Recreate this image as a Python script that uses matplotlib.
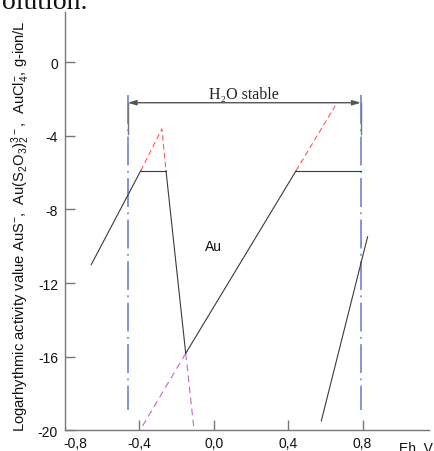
import matplotlib
matplotlib.use("Agg")
import matplotlib.pyplot as plt
from matplotlib.transforms import ScaledTranslation

plt.rcParams['font.family'] = ['Liberation Sans', 'DejaVu Sans']
plt.rcParams['mathtext.default'] = 'regular'

# ---- data (Eh in V, log activity) ----
left_x = [-0.659, -0.393]
left_y = [-11.0, -5.9]
flat1_x = [-0.393, -0.257]
flat1_y = [-5.9, -5.9]
red_peak_x = [-0.393, -0.279, -0.257]
red_peak_y = [-5.9, -3.62, -5.9]
steep_x = [-0.257, -0.151]
steep_y = [-5.9, -15.82]
steep_ext_x = [-0.151, -0.106]
steep_ext_y = [-15.82, -20.0]
rise_x = [-0.151, 0.442]
rise_y = [-15.82, -5.9]
rise_ext_x = [-0.151, -0.397]
rise_ext_y = [-15.82, -20.0]
red_ext_x = [0.442, 0.653]
red_ext_y = [-5.9, -2.36]
flat2_x = [0.442, 0.791]
flat2_y = [-5.9, -5.9]
right_x = [0.578, 0.827]
right_y = [-19.49, -9.48]
water_x = [-0.463, 0.791]
water_y = [-1.8, -18.9]
arrow_y = -2.2
bracket_y = [-2.2, -3.9]

xticks = [-0.8, -0.4, 0.0, 0.4, 0.8]
xticklabels = ['-0,8', '-0,4', '0,0', '0,4', '0,8']
yticks = [0, -4, -8, -12, -16, -20]
yticklabels = ['0', '-4', '-8', '-12', '-16', '-20']

fig = plt.figure(figsize=(4.34, 4.52), dpi=100)
ax = fig.add_axes([65/434, 20.7/452, 364/434, 418.3/452])
ax.set_xlim(-0.8, 1.157)
ax.set_ylim(-20, 2.73)

black = '#3a3a3a'
lw = 0.8
red = '#ff5a5a'
mag = '#c266c8'
blue = '#7b8ed6'

# water stability lines
for wx in water_x:
    ax.plot([wx, wx], water_y, color=blue, lw=1.3, linestyle=(0, (16, 3, 1, 3)))
    ax.plot([wx, wx], bracket_y, color='#777777', lw=1.0)

ax.annotate('', xy=(water_x[0], arrow_y), xytext=(water_x[1], arrow_y),
            arrowprops=dict(arrowstyle='<|-|>,head_length=0.5,head_width=0.15',
                            color='#555555', lw=1.0, shrinkA=0, shrinkB=0))
ax.text(sum(water_x)/2, -1.95, 'H\u2082O stable', ha='center', va='baseline',
        fontsize=11.5, family=['Liberation Serif', 'DejaVu Serif'], color='#222222')

# dashed extensions
ax.plot(red_peak_x, red_peak_y, color=red, lw=lw, linestyle=(0, (5, 3)))
ax.plot(red_ext_x, red_ext_y, color=red, lw=lw, linestyle=(0, (5, 3)))
ax.plot(steep_ext_x, steep_ext_y, color=mag, lw=lw, linestyle=(0, (6, 4)))
ax.plot(rise_ext_x, rise_ext_y, color=mag, lw=lw, linestyle=(0, (6, 4)))

# solid lines
for xs, ys in [(left_x, left_y), (flat1_x, flat1_y), (steep_x, steep_y),
               (rise_x, rise_y), (flat2_x, flat2_y), (right_x, right_y)]:
    ax.plot(xs, ys, color=black, lw=lw)

ax.text(0.0, -10.0, 'Au', ha='center', va='center', fontsize=10, color='#111111')

# axes styling
for s in ['top', 'right']:
    ax.spines[s].set_visible(False)
for s in ['left', 'bottom']:
    ax.spines[s].set_color('#777777')
    ax.spines[s].set_linewidth(1.0)
ax.set_xticks(xticks)
ax.set_xticklabels(xticklabels)
ax.set_yticks(yticks)
ax.set_yticklabels(yticklabels)
ax.tick_params(axis='both', direction='in', length=7, width=1.0, color='#777777',
               labelsize=10, labelcolor='#111111')
ax.tick_params(axis='x', pad=4)
ax.tick_params(axis='y', pad=5)

# first x tick sits on the spine; its label is shifted right as in the reference
first = ax.xaxis.get_major_ticks()[0]
first.tick1line.set_visible(False)
first.label1.set_transform(first.label1.get_transform() +
                           ScaledTranslation(10/100, 0, fig.dpi_scale_trans))

ax.set_ylabel('Logarhythmic activity value AuS$^{-}$,  Au(S$_2$O$_3$)$_2^{3-}$,  AuCl$_4^{-}$, g-ion/L',
              fontsize=10.6, color='#111111')
ax.yaxis.set_label_coords(-33/364, 0.49)

fig.text(399/434, (452-442)/452, 'Eh, V', ha='left', va='top', fontsize=10, color='#111111')
fig.text(2/434, 1 - 9/452, 'olution.', ha='left', va='baseline', fontsize=20,
         family=['Liberation Serif', 'DejaVu Serif'], color='#111111')

fig.savefig('out.png', dpi=100)
